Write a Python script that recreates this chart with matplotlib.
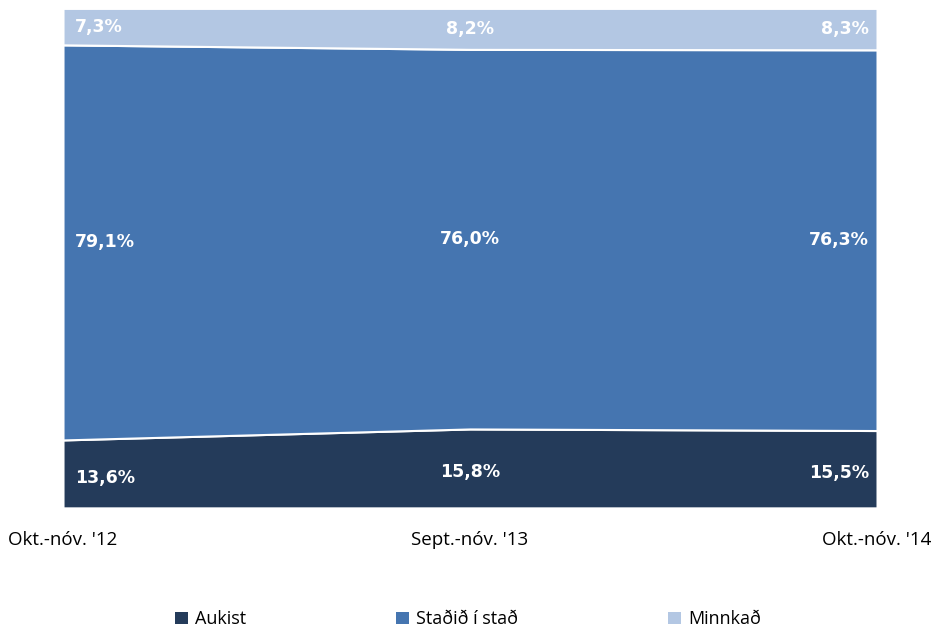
import numpy as np
import matplotlib.pyplot as plt
from matplotlib.patches import Patch

periods = ["Okt.-nóv. '12", "Sept.-nóv. '13", "Okt.-nóv. '14"]
aukist = [13.6, 15.8, 15.5]
stadid = [79.1, 76.0, 76.3]
minnkad = [7.3, 8.2, 8.3]
series_names = ['Aukist', 'Staðið í stað', 'Minnkað']
colors = ['#243B5A', '#4575B0', '#B3C7E3']

fig = plt.figure(figsize=(9.36, 6.27), dpi=100)
ax = fig.add_axes([0.0673, 0.19, 0.8697, 0.7966])

x = np.arange(len(periods))
vals = np.array([aukist, stadid, minnkad])
total = vals.sum(axis=0)
vals = vals / total * 100
ax.stackplot(x, vals, colors=colors, edgecolor='white', linewidth=1.5)

ax.set_xlim(0, len(periods) - 1)
ax.set_ylim(0, 100)
ax.set_yticks([])
ax.set_xticks(x)
ax.set_xticklabels(periods, fontsize=13.5, family='Open Sans')
ax.tick_params(axis='x', length=0, pad=17)
for s in ax.spines.values():
    s.set_visible(False)

# data labels
raw = [aukist, stadid, minnkad]
bottoms = np.zeros(len(periods))
for k in range(3):
    for i in range(len(periods)):
        yc = bottoms[i] + vals[k][i] / 2
        if k == 0:
            yc -= 0.8
        if i == 0:
            xp, ha = 0.03, 'left'
        elif i == len(periods) - 1:
            xp, ha = len(periods) - 1 - 0.02, 'right'
        else:
            xp, ha = i, 'center'
        ax.text(xp, yc, f'{raw[k][i]:.1f}%'.replace('.', ','), ha=ha, va='center',
                color='white', fontsize=12.5, fontweight='bold')
    bottoms += vals[k]

handles = [Patch(facecolor=c, edgecolor='none') for c in colors]
fig.legend(handles, series_names, loc='lower center', bbox_to_anchor=(0.5, -0.028),
           ncol=3, frameon=False, handlelength=0.7, handleheight=0.7,
           handletextpad=0.4, columnspacing=8.3, prop={'family': 'Open Sans', 'size': 13})

fig.savefig('out.png', dpi=100)
